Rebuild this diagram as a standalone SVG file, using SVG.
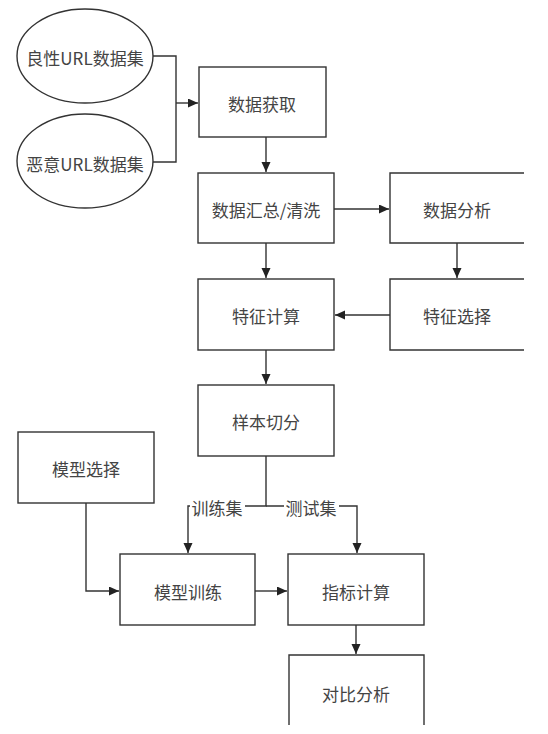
<svg xmlns="http://www.w3.org/2000/svg" width="548" height="734" viewBox="0 0 548 734">
<style>
.b{fill:#fff;stroke:#333;stroke-width:1.4}
.c{fill:none;stroke:#333;stroke-width:1.4}
.t{font-family:"Noto Sans CJK SC","Liberation Sans",sans-serif;font-size:17px;fill:#444;text-anchor:middle;dominant-baseline:central}
.lb{fill:#fff}
</style>
<defs>
<marker id="a" markerUnits="userSpaceOnUse" markerWidth="11" markerHeight="10" refX="10" refY="4.5" orient="auto">
<path d="M0,0 L10,4.5 L0,9 z" fill="#222"/>
</marker>
</defs>
<rect width="548" height="734" fill="#fff"/>
<g id="connectors">
<path class="c" d="M152,56 H176 V162 H152"/>
<path class="c" d="M176,103 H198" marker-end="url(#a)"/>
<path class="c" d="M266,137 V172" marker-end="url(#a)"/>
<path class="c" d="M334,209 H389" marker-end="url(#a)"/>
<path class="c" d="M266,243 V278" marker-end="url(#a)"/>
<path class="c" d="M457,243 V278" marker-end="url(#a)"/>
<path class="c" d="M390,315 H335" marker-end="url(#a)"/>
<path class="c" d="M266,350 V384" marker-end="url(#a)"/>
<path class="c" d="M266,456 V506 H188 V553" marker-end="url(#a)"/>
<path class="c" d="M266,506 H357 V553" marker-end="url(#a)"/>
<path class="c" d="M86,503 V591 H119" marker-end="url(#a)"/>
<path class="c" d="M255,591 H287" marker-end="url(#a)"/>
<path class="c" d="M356,625 V654" marker-end="url(#a)"/>
<rect class="lb" x="190" y="497" width="55" height="20"/>
<text class="t" x="217" y="507">训练集</text>
<rect class="lb" x="284" y="497" width="55" height="20"/>
<text class="t" x="311" y="507">测试集</text>
</g>
<g id="benign">
<ellipse class="b" cx="85" cy="56" rx="68" ry="47"/>
<text class="t" x="85" y="57">良性URL数据集</text>
</g>
<g id="malicious">
<ellipse class="b" cx="85" cy="161" rx="68" ry="47"/>
<text class="t" x="85" y="163">恶意URL数据集</text>
</g>
<g id="acquire">
<rect class="b" x="199" y="67" width="127" height="70"/>
<text class="t" x="262" y="103">数据获取</text>
</g>
<g id="clean">
<rect class="b" x="198" y="173" width="136" height="70"/>
<text class="t" x="266" y="209">数据汇总/清洗</text>
</g>
<g id="analysis">
<path class="c" d="M524,173 H390 V243 H524"/>
<text class="t" x="457" y="209">数据分析</text>
</g>
<g id="featsel">
<path class="c" d="M524,279 H390 V350 H524"/>
<text class="t" x="457" y="315">特征选择</text>
</g>
<g id="featcalc">
<rect class="b" x="198" y="279" width="136" height="71"/>
<text class="t" x="266" y="315">特征计算</text>
</g>
<g id="split">
<rect class="b" x="198" y="385" width="136" height="71"/>
<text class="t" x="266" y="421">样本切分</text>
</g>
<g id="modelsel">
<rect class="b" x="18" y="432" width="136" height="71"/>
<text class="t" x="86" y="468">模型选择</text>
</g>
<g id="train">
<rect class="b" x="120" y="554" width="135" height="71"/>
<text class="t" x="188" y="591">模型训练</text>
</g>
<g id="metric">
<rect class="b" x="288" y="554" width="136" height="71"/>
<text class="t" x="356" y="591">指标计算</text>
</g>
<g id="compare">
<path class="c" d="M289,725 V655 H424 V725"/>
<text class="t" x="356" y="693">对比分析</text>
</g>
</svg>
